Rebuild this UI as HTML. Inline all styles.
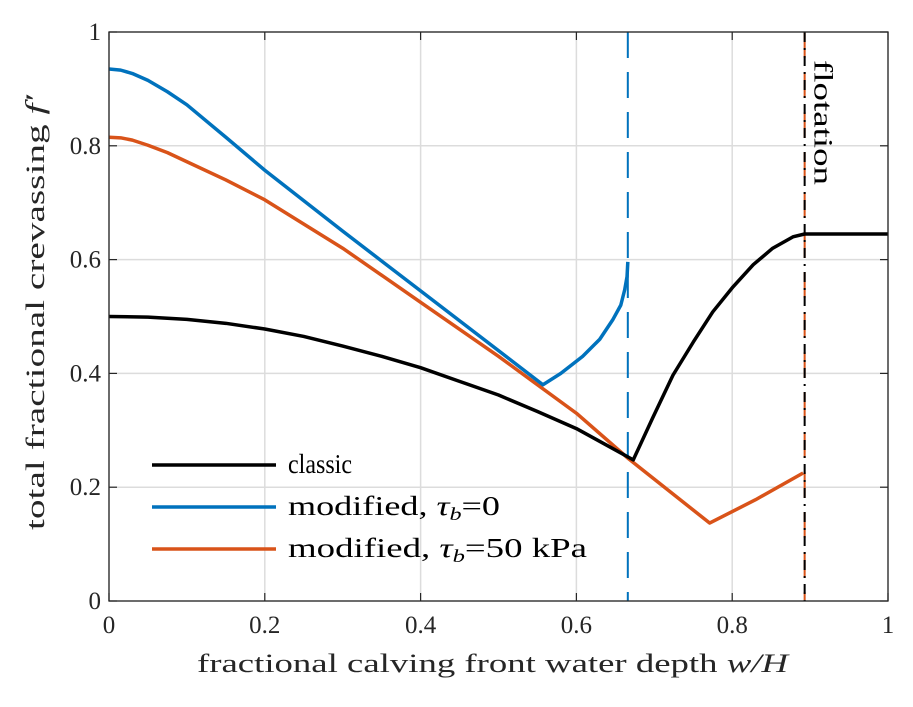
<!DOCTYPE html>
<html><head><meta charset="utf-8"><style>
body{margin:0;background:#fff;width:913px;height:702px;overflow:hidden}
text{font-family:"Liberation Serif","DejaVu Serif",serif;fill:#262626}
</style></head><body>
<svg id="chart" width="913" height="702" xmlns="http://www.w3.org/2000/svg"></svg>
<script>
const xTicks=[0,0.2,0.4,0.6,0.8,1];
const yTicks=[0,0.2,0.4,0.6,0.8,1];
const tickLabels=["0","0.2","0.4","0.6","0.8","1"];
const classicX=[0,0.05,0.1,0.15,0.2,0.25,0.3,0.35,0.4,0.45,0.5,0.55,0.6,0.64,0.673,0.698,0.724,0.75,0.775,0.801,0.827,0.852,0.878,0.893,1];
const classicY=[0.5,0.499,0.495,0.488,0.478,0.465,0.448,0.43,0.41,0.386,0.362,0.333,0.303,0.273,0.248,0.322,0.397,0.455,0.508,0.552,0.591,0.62,0.64,0.645,0.645];
const blueX=[0,0.015,0.03,0.05,0.075,0.1,0.15,0.2,0.3,0.4,0.5,0.557,0.58,0.608,0.63,0.647,0.657,0.662,0.665,0.666];
const blueY=[0.935,0.933,0.927,0.915,0.895,0.872,0.815,0.757,0.65,0.545,0.44,0.38,0.4,0.43,0.46,0.495,0.52,0.547,0.57,0.596];
const orangeX=[0,0.015,0.03,0.05,0.075,0.1,0.15,0.2,0.3,0.4,0.5,0.6,0.667,0.771,0.83,0.891];
const orangeY=[0.815,0.814,0.81,0.801,0.788,0.772,0.74,0.705,0.62,0.525,0.43,0.33,0.25,0.137,0.178,0.225];
const modTb0Crit=0.666, flotation=0.893;
const X0=109,X1=888,Y0=601,Y1=32;
const sx=v=>X0+(X1-X0)*v, sy=v=>Y0-(Y0-Y1)*v;
const svg=document.getElementById('chart');
const NS='http://www.w3.org/2000/svg';
function mk(t,a,p){const e=document.createElementNS(NS,t);for(const k in a)e.setAttribute(k,a[k]);(p||svg).appendChild(e);return e;}
const g=mk('g',{});


xTicks.forEach((v,i)=>{
 const l=mk('line',{x1:sx(v),x2:sx(v),y1:Y0,y2:Y1,stroke:'#dcdcdc','stroke-width':1.5},g);
 
 
 const t=mk('text',{x:sx(v),y:Y0+32,'text-anchor':'middle','font-size':25});
 t.textContent=tickLabels[i];
 
 
 mk('line',{x1:sx(v),x2:sx(v),y1:Y0,y2:Y0-8,stroke:'#262626','stroke-width':1.2});
 mk('line',{x1:sx(v),x2:sx(v),y1:Y1,y2:Y1+8,stroke:'#262626','stroke-width':1.2});
});
yTicks.forEach((v,i)=>{
 const l=mk('line',{x1:X0,x2:X1,y1:sy(v),y2:sy(v),stroke:'#dcdcdc','stroke-width':1.5},g);
 
 
 const t=mk('text',{x:X0-8,y:sy(v)+8,'text-anchor':'end','font-size':25});
 t.textContent=tickLabels[i];
 
 
 mk('line',{x1:X0,x2:X0+8,y1:sy(v),y2:sy(v),stroke:'#262626','stroke-width':1.2});
 mk('line',{x1:X1,x2:X1-8,y1:sy(v),y2:sy(v),stroke:'#262626','stroke-width':1.2});
});
function line(xs,ys,c,name){const p=mk('polyline',{points:xs.map((x,i)=>sx(x)+','+sy(ys[i])).join(' '),fill:'none',stroke:c,'stroke-width':3.5,'stroke-linejoin':'round'});
 
 }
const v1=mk('line',{x1:sx(modTb0Crit),x2:sx(modTb0Crit),y1:Y1,y2:Y0,stroke:'#0072BD','stroke-width':2,'stroke-dasharray':'26,14'});


const v2=mk('line',{x1:sx(flotation),x2:sx(flotation),y1:Y1,y2:Y0,stroke:'#D95319','stroke-width':2,'stroke-dasharray':'26,14'});


const v3=mk('line',{x1:sx(flotation),x2:sx(flotation),y1:Y1,y2:Y0,stroke:'#000','stroke-width':2,'stroke-dasharray':'10,6,2,6'});


line(orangeX,orangeY,'#D95319','series-modified-50kpa');
line(blueX,blueY,'#0072BD','series-modified-tb0');
line(classicX,classicY,'#000','series-classic');
mk('rect',{x:X0,y:Y1,width:X1-X0,height:Y0-Y1,fill:'none',stroke:'#262626','stroke-width':1.3});
const ft=mk('text',{x:0,y:0,'font-size':26,textLength:125,lengthAdjust:'spacingAndGlyphs',transform:`translate(${sx(flotation)+10},${Y1+28}) rotate(90)`});
ft.textContent='flotation';ft.style.fill='#000';


const leg=[['classic','#000',64],['modified, τ_b=0','#0072BD',212],['modified, τ_b=50 kPa','#D95319',299]];
leg.forEach((e,i)=>{const y=465+i*42;
 const l=mk('line',{x1:152,x2:276,y1:y,y2:y,stroke:e[1],'stroke-width':3.5});
 
 
 const t=mk('text',{x:288,y:y+8,'font-size':27,textLength:e[2],lengthAdjust:'spacingAndGlyphs'});t.style.fill='#000';
 
 
 if(e[0].includes('τ_b')){const [a,b]=e[0].split('τ_b');t.textContent=a;
  const s=mk('tspan',{'font-style':'italic'},t);s.textContent='τ';
  const s2=mk('tspan',{'font-style':'italic','font-size':18,dy:5},t);s2.textContent='b';
  const s3=mk('tspan',{dy:-5},t);s3.textContent=b;}
 else t.textContent=e[0];
});
const xl=mk('text',{x:197,y:672,'font-size':26,textLength:591,lengthAdjust:'spacingAndGlyphs'});
xl.innerHTML='fractional calving front water depth <tspan font-style="italic">w/H</tspan>';


const yl=mk('text',{x:0,y:0,'font-size':26,textLength:435,lengthAdjust:'spacingAndGlyphs',transform:'translate(44,530) rotate(-90)'});
yl.innerHTML='total fractional crevassing <tspan font-style="italic">f′</tspan>';


</script>
</body></html>
